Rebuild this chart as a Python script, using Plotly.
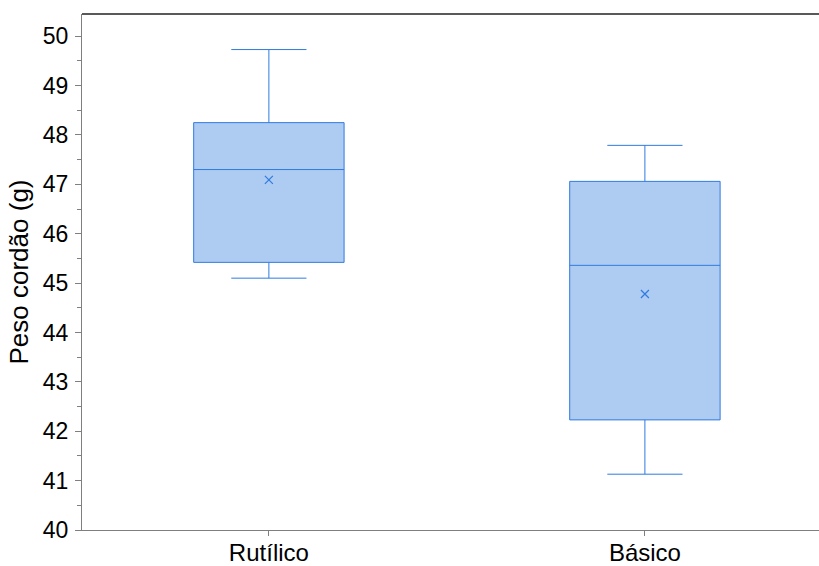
import plotly.graph_objects as go

# Box statistics for each electrode type (peso do cordão, g)
categories = ["Rutílico", "Básico"]
lower_whisker = [45.10, 41.13]
q1 = [45.42, 42.23]
median = [47.30, 45.36]
q3 = [48.25, 47.06]
upper_whisker = [49.73, 47.79]
mean = [47.09, 44.78]

y_ticks = [40, 41, 42, 43, 44, 45, 46, 47, 48, 49, 50]

line_blue = "#2f7be0"
fill_blue = "#aecbf2"
font_family = "Liberation Sans, Arial, sans-serif"

fig = go.Figure()

fig.add_trace(go.Box(
    x=categories,
    q1=q1,
    median=median,
    q3=q3,
    lowerfence=lower_whisker,
    upperfence=upper_whisker,
    width=0.4,
    whiskerwidth=0.5,
    fillcolor=fill_blue,
    line=dict(color=line_blue, width=1),
    boxpoints=False,
    showlegend=False,
))

# Mean marker
fig.add_trace(go.Scatter(
    x=categories,
    y=mean,
    mode="markers",
    marker=dict(symbol="x-thin", size=8, line=dict(color=line_blue, width=1.2)),
    showlegend=False,
))

# Top frame line
fig.add_shape(type="line", xref="paper", yref="paper", x0=0, x1=1, y0=1, y1=1,
              line=dict(color="#222222", width=1.3))

fig.update_layout(
    width=819,
    height=566,
    margin=dict(l=82, r=0, t=14, b=36),
    paper_bgcolor="white",
    plot_bgcolor="white",
    font=dict(family=font_family, color="black", size=23),
)

fig.update_xaxes(
    type="category",
    range=[-0.497, 1.463],
    automargin=False,
    showline=True,
    linecolor="#7f7f7f",
    linewidth=1,
    ticks="outside",
    ticklen=5,
    tickcolor="#7f7f7f",
    ticklabelstandoff=-4,
    showgrid=False,
    zeroline=False,
    tickfont=dict(size=24),
)

fig.update_yaxes(
    range=[40, 50.45],
    tickvals=y_ticks,
    automargin=False,
    showline=True,
    linecolor="#7f7f7f",
    linewidth=1,
    ticks="outside",
    ticklen=6,
    tickcolor="#7f7f7f",
    minor=dict(ticks="outside", ticklen=4, dtick=0.5, tickcolor="#7f7f7f", showgrid=False),
    ticklabelstandoff=2,
    showgrid=False,
    zeroline=False,
    tickfont=dict(size=23),
    title=dict(text="Peso cordão (g)", font=dict(size=26), standoff=6),
)

fig.write_html("out.html")
